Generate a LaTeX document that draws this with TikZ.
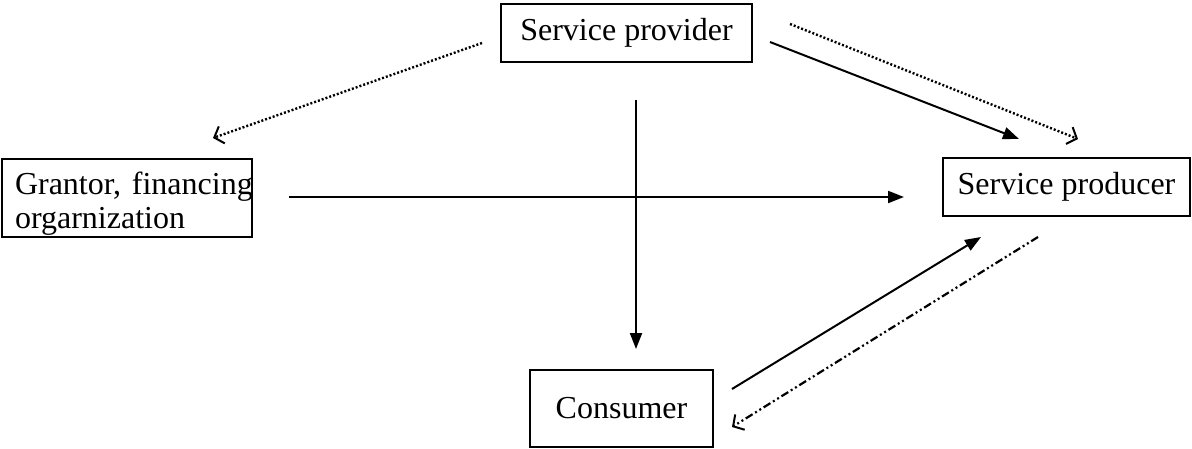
\documentclass[tikz,border=0pt]{standalone}
\usepackage{fontspec}
\setmainfont{Liberation Serif}
\usetikzlibrary{arrows.meta}

\begin{document}
\begin{tikzpicture}[x=0.5pt,y=-0.5pt,
  box/.style={draw, line width=1pt, inner sep=0pt, font=\fontsize{16}{17}\selectfont},
  flow/.style={line width=1pt, -{Triangle[length=8pt,width=6pt]}},
  dotflow/.style={line width=1.2pt, dash pattern=on 1pt off 1pt, -{Straight Barb[length=4pt,width=9pt,line width=1pt]}},
  dashdotflow/.style={line width=1.1pt, dash pattern=on 4pt off 1.5pt on 1pt off 1.5pt on 1pt off 1.5pt, -{Straight Barb[length=4pt,width=9pt,line width=1pt]}}]
  \useasboundingbox (0,0) rectangle (1192,449);
  % the four boxes
  \node[box, minimum width=125.5pt, minimum height=29pt] (prov) at (626.5,33) {Service provider};
  \node[box, minimum height=39pt, text width=112pt, text height=17pt, inner xsep=6.5pt, align=left] (grant) at (127,198) {\mbox{Grantor, financing}\\orgarnization};
  \node[box, minimum width=123.5pt, minimum height=29pt] (prod) at (1066.5,187) {Service producer};
  \node[box, minimum width=91.5pt, minimum height=38.5pt] (cons) at (621.5,408.5) {Consumer};
  % free ends of the connectors
  \coordinate (a1) at (482,43);  \coordinate (a2) at (213,138);
  \coordinate (b1) at (770,42);  \coordinate (b2) at (1019,139);
  \coordinate (c1) at (790,24);  \coordinate (c2) at (1078,139);
  \coordinate (d1) at (636,100); \coordinate (d2) at (636,349);
  \coordinate (e1) at (289,197); \coordinate (e2) at (904,197);
  \coordinate (f1) at (732,389); \coordinate (f2) at (981,237);
  \coordinate (g1) at (1038,237); \coordinate (g2) at (732,427);
  % connectors
  \draw[dotflow] (a1) -- (a2);
  \draw[flow] (b1) -- (b2);
  \draw[dotflow] (c1) -- (c2);
  \draw[flow] (d1) -- (d2);
  \draw[flow] (e1) -- (e2);
  \draw[flow] (f1) -- (f2);
  \draw[dashdotflow] (g1) -- (g2);
\end{tikzpicture}
\end{document}
